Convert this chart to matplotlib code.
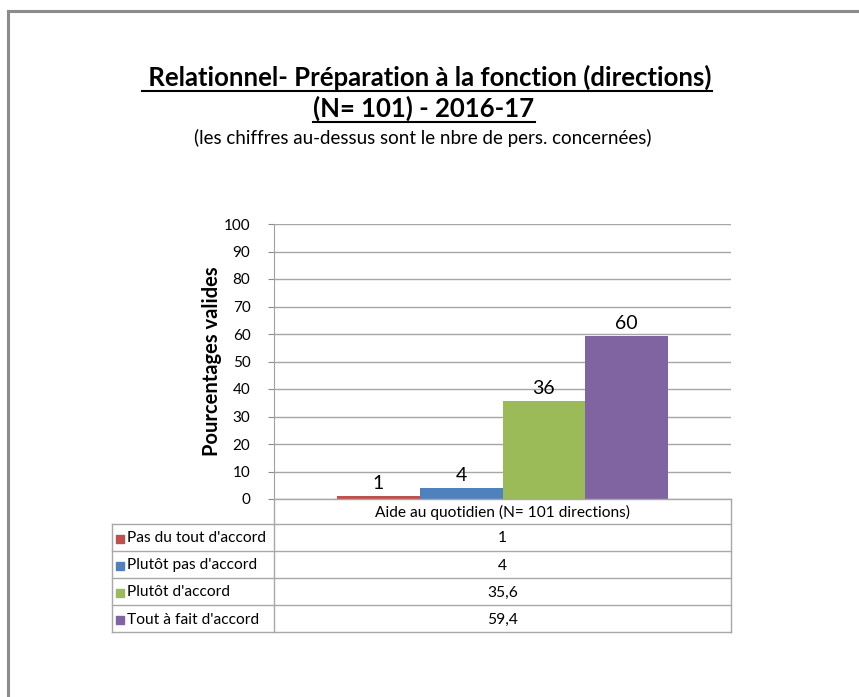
import matplotlib.pyplot as plt
from matplotlib.lines import Line2D
from matplotlib.patches import Rectangle

plt.rcParams['font.family'] = ['Lato', 'DejaVu Sans']

categories = ["Pas du tout d'accord", "Plutôt pas d'accord", "Plutôt d'accord", "Tout à fait d'accord"]
percents = [1, 4, 35.6, 59.4]
percent_labels = ['1', '4', '35,6', '59,4']
counts = [1, 4, 36, 60]
colors = ['#C0504D', '#4F81BD', '#9BBB59', '#8064A2']
group_label = 'Aide au quotidien (N= 101 directions)'
yticks = list(range(0, 101, 10))

W, H = 859, 697
fig = plt.figure(figsize=(W / 100, H / 100), dpi=100)
fig.patch.set_facecolor('white')

def fx(px):
    return px / W

def fy(py):
    return 1 - py / H

# chart frame (only top and left edges fall inside the image)
fig.add_artist(Line2D([fx(8), fx(8)], [fy(11), fy(H)], color='#8c8c8c', lw=2.2))
fig.add_artist(Line2D([fx(8), fx(W)], [fy(11), fy(11)], color='#8c8c8c', lw=2.2))

# plot area
ax_l, ax_r, ax_t, ax_b = 274, 731, 224, 499
ax = fig.add_axes([fx(ax_l), fy(ax_b), fx(ax_r - ax_l), (ax_b - ax_t) / H])
x = list(range(len(percents)))
bars = ax.bar(x, percents, width=1.0, color=colors, edgecolor='none', zorder=3)
for b, c in zip(bars, counts):
    ax.text(b.get_x() + b.get_width() / 2, b.get_height() + 1.4, str(c),
            ha='center', va='bottom', fontsize=14, color='black', zorder=4)

ax.set_xlim(1.5 - 2.76, 1.5 + 2.76)
ax.set_ylim(0, 100)
ax.set_yticks(yticks)
ax.set_yticklabels([str(t) for t in yticks], fontsize=11)
ax.set_xticks([])
ax.grid(axis='y', color='#a6a6a6', lw=1.0, zorder=0)
for s in ['top', 'right', 'bottom']:
    ax.spines[s].set_visible(False)
ax.spines['left'].set_color('#a0a0a0')
ax.tick_params(axis='y', length=4, color='#8c8c8c', pad=13)
ax.set_ylabel('Pourcentages valides', fontsize=14.5, fontweight='bold')
ax.yaxis.set_label_coords((222 - ax_l) / (ax_r - ax_l), 0.5)

# data table below the axis
tab_l, tab_div, tab_r = 112, 274, 731
rows_y = [499, 524, 551, 578, 605, 632]
lc = '#a8a8a8'

def hline(x0, x1, y):
    fig.add_artist(Line2D([fx(x0), fx(x1)], [fy(y), fy(y)], color=lc, lw=1.0))

def vline(x, y0, y1):
    fig.add_artist(Line2D([fx(x), fx(x)], [fy(y0), fy(y1)], color=lc, lw=1.0))

hline(tab_div, tab_r, rows_y[0])
for y in rows_y[1:]:
    hline(tab_l, tab_r, y)
vline(tab_div, rows_y[0], rows_y[-1])
vline(tab_r, rows_y[0], rows_y[-1])
vline(tab_l, rows_y[1], rows_y[-1])

fig.text(fx((tab_div + tab_r) / 2), fy((rows_y[0] + rows_y[1]) / 2 + 1), group_label,
         ha='center', va='center', fontsize=11.2)
for i, (cat, lab, col) in enumerate(zip(categories, percent_labels, colors)):
    yc = (rows_y[i + 1] + rows_y[i + 2]) / 2 + 1
    fig.add_artist(Rectangle((fx(116), fy(yc + 4.5)), fx(8), 8 / H, color=col))
    fig.text(fx(127), fy(yc), cat, ha='left', va='center', fontsize=11.2)
    fig.text(fx((tab_div + tab_r) / 2), fy(yc), lab, ha='center', va='center', fontsize=11.2)

# titles
t1 = fig.text(fx(427), fy(77), ' Relationnel- Préparation à la fonction (directions)',
              ha='center', va='center', fontsize=18.5, fontweight='bold')
t2 = fig.text(fx(424), fy(108), '(N= 101) - 2016-17',
              ha='center', va='center', fontsize=18.5, fontweight='bold')
fig.text(fx(423), fy(138), '(les chiffres au-dessus sont le nbre de pers. concernées)',
         ha='center', va='center', fontsize=13.5)

renderer = fig.canvas.get_renderer()
for t, uy in [(t1, 91), (t2, 122)]:
    bb = t.get_window_extent(renderer)
    fig.add_artist(Line2D([bb.x0 / W, bb.x1 / W], [fy(uy), fy(uy)], color='black', lw=1.5))

fig.savefig('out.png', dpi=100)
